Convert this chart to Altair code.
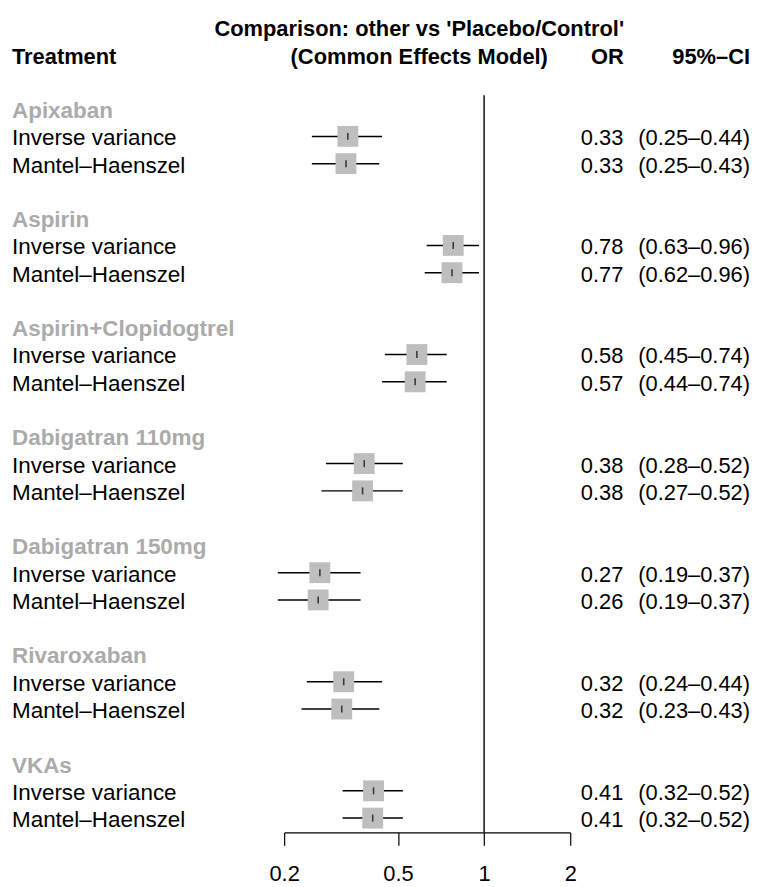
import altair as alt
import pandas as pd

treatments = ["Apixaban", "Aspirin", "Aspirin+Clopidogtrel", "Dabigatran 110mg",
              "Dabigatran 150mg", "Rivaroxaban", "VKAs"]
methods = ["Inverse variance", "Mantel–Haenszel"]

or_iv = [0.334, 0.78, 0.582, 0.381, 0.2666, 0.323, 0.4107]
lo_iv = [0.25, 0.63, 0.45, 0.28, 0.19, 0.24, 0.32]
hi_iv = [0.44, 0.96, 0.74, 0.52, 0.37, 0.44, 0.52]

or_mh = [0.329, 0.772, 0.574, 0.376, 0.263, 0.318, 0.408]
lo_mh = [0.25, 0.62, 0.44, 0.27, 0.19, 0.23, 0.32]
hi_mh = [0.43, 0.96, 0.74, 0.52, 0.37, 0.43, 0.52]

axis_ticks = [0.2, 0.5, 1, 2]

rows = []
groups = []
for g, name in enumerate(treatments):
    groups.append({"row": 4 * g, "label": name})
    for k, (est, lo, hi) in enumerate([(or_iv[g], lo_iv[g], hi_iv[g]),
                                       (or_mh[g], lo_mh[g], hi_mh[g])]):
        rows.append({
            "row": 4 * g + 1 + k,
            "label": methods[k],
            "est": est, "lo": lo, "hi": hi,
            "or_txt": f"{est:.2f}",
            "ci_txt": f"({lo:.2f}–{hi:.2f})",
        })
df = pd.DataFrame(rows)
gdf = pd.DataFrame(groups)

FONT = "Liberation Sans"
FS = 22
FS_LEFT = 22.6

xscale = alt.Scale(type="log", domain=[0.2, 2], range=[278, 566], nice=False, clamp=False)
yscale = alt.Scale(domain=[0, 26], range=[98.85, 812.6], nice=False, zero=False)
xaxis = alt.Axis(values=axis_ticks, format="~g", title=None, grid=False,
                 tickSize=13, labelPadding=35, labelBaseline="alphabetic",
                 labelFont=FONT, labelFontSize=FS,
                 labelColor="black", domainColor="black", tickColor="black",
                 domainWidth=1.2, tickWidth=1.2, labelFlush=False, labelOverlap=False)

base = alt.Chart(df)
Y = alt.Y("row:Q", scale=yscale, axis=None)

ci = base.mark_rule(color="black", strokeWidth=1.5).encode(
    x=alt.X("lo:Q", scale=xscale, axis=xaxis), x2="hi:Q", y=Y)
sq = base.mark_square(size=441, color="#BEBEBE", opacity=1).encode(
    x=alt.X("est:Q", scale=xscale, axis=xaxis), y=Y)
tk = base.mark_tick(orient="vertical", size=7, thickness=1.6, color="black").encode(
    x=alt.X("est:Q", scale=xscale, axis=xaxis), y=Y)

ref = alt.Chart(pd.DataFrame({"ref": [1]})).mark_rule(color="black", strokeWidth=1.4).encode(
    x=alt.X("ref:Q", scale=xscale, axis=xaxis), y=alt.value(85), y2=alt.value(827))

lab = base.mark_text(align="left", baseline="alphabetic", dy=9, font=FONT,
                     fontSize=FS_LEFT, color="black").encode(
    x=alt.value(4), y=Y, text="label:N")
glab = alt.Chart(gdf).mark_text(align="left", baseline="alphabetic", dy=9, font=FONT,
                                fontSize=FS_LEFT, fontWeight="bold", color="#ABABAB").encode(
    x=alt.value(4), y=Y, text="label:N")
ortx = base.mark_text(align="right", baseline="alphabetic", dy=9, font=FONT,
                      fontSize=FS, color="black").encode(
    x=alt.value(619.5), y=Y, text="or_txt:N")
citx = base.mark_text(align="right", baseline="alphabetic", dy=9, font=FONT,
                      fontSize=FS, color="black").encode(
    x=alt.value(747), y=Y, text="ci_txt:N")


def header(txt, x, y, align):
    return alt.Chart(pd.DataFrame({"t": [txt]})).mark_text(
        align=align, baseline="alphabetic", font=FONT, fontSize=FS,
        fontWeight="bold", color="black").encode(
        x=alt.value(x), y=alt.value(y), text="t:N")


h1 = header("Comparison: other vs 'Placebo/Control'", 414, 25, "center")
h2 = header("(Common Effects Model)", 414, 53, "center")
h3 = header("Treatment", 4, 53, "left")
h4 = header("OR", 620, 53, "right")
h5 = header("95%–CI", 747, 53, "right")

chart = alt.layer(ci, sq, tk, ref, lab, glab, ortx, citx, h1, h2, h3, h4, h5).properties(
    width=750, height=827,
    autosize=alt.AutoSizeParams(type="none"),
    padding={"left": 0, "top": 0, "right": 0, "bottom": 50},
).configure_view(stroke=None)

chart.save("out.html", embed_options={"renderer": "svg", "actions": False})
